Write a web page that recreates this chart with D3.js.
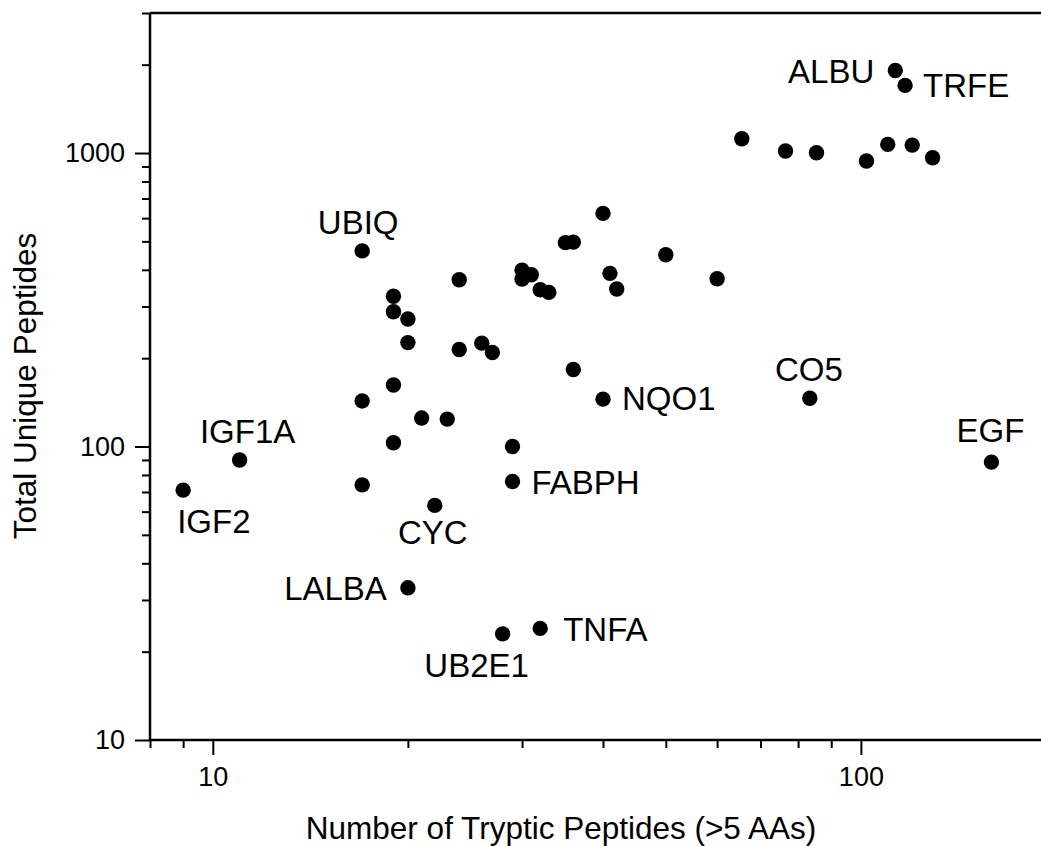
<!DOCTYPE html>
<html>

<head>
    <title>Tryptic vs Unique Peptides</title>
    <script src="https://cdnjs.cloudflare.com/ajax/libs/d3/7.8.5/d3.min.js"></script>
    <style>
        html,
        body {
            margin: 0;
            padding: 0;
            background-color: #ffffff;
        }

        #chart text {
            font-family: 'Liberation Sans', Arial, sans-serif;
            fill: #000000;
        }
    </style>
</head>

<body>
    <div id="chart"></div>

    <script>

        // number of tryptic peptides (>5 AAs) per protein
        const trypticPeptides = [
            9, 11, 17, 17, 17, 19, 19, 19, 19, 20, 20, 20, 21, 22, 23, 24,
            24, 26, 27, 28, 29, 29, 30, 30, 31, 32, 32, 33, 35, 36, 36, 40,
            40, 41, 42, 50, 60, 65.5, 76.5, 83.4, 85.4, 102, 110, 113, 117, 120, 129, 159
        ];

        // total unique peptides per protein
        const uniquePeptides = [
            71, 90, 464, 143, 74, 325, 288, 162, 103, 272, 226, 33, 125, 63, 124, 370,
            214, 225, 209, 23, 100, 76, 399, 372, 385, 342, 24, 335, 495, 497, 183, 623,
            145, 389, 344, 450, 373, 1118, 1016, 146, 1002, 939, 1070, 1910, 1700, 1064, 964, 88.5
        ];

        // protein names ('' = not labelled)
        const proteinNames = [
            'IGF2', 'IGF1A', 'UBIQ', '', '', '', '', '', '', '', '', 'LALBA', '', 'CYC', '', '',
            '', '', '', 'UB2E1', '', 'FABPH', '', '', '', '', 'TNFA', '', '', '', '', '',
            'NQO1', '', '', '', '', '', '', 'CO5', '', '', '', 'ALBU', 'TRFE', '', '', 'EGF'
        ];

        const xMajorTicks = [10, 100];
        const xMinorTicks = [8, 9, 20, 30, 40, 50, 60, 70, 80, 90, 200];
        const yMajorTicks = [10, 100, 1000];
        const yMinorTicks = [20, 30, 40, 50, 60, 70, 80, 90, 200, 300, 400, 500, 600, 700, 800, 900, 2000, 3000];

        // where each name sits relative to its point
        const labelPlacement = {
            ALBU: { anchor: 'end', dx: -21, dy: 12 },
            TRFE: { anchor: 'start', dx: 18, dy: 12 },
            UBIQ: { anchor: 'middle', dx: -4, dy: -17 },
            IGF1A: { anchor: 'middle', dx: 8, dy: -17 },
            IGF2: { anchor: 'start', dx: -6, dy: 43 },
            LALBA: { anchor: 'end', dx: -21, dy: 12 },
            CYC: { anchor: 'middle', dx: -2, dy: 39 },
            FABPH: { anchor: 'start', dx: 19, dy: 13 },
            TNFA: { anchor: 'start', dx: 23, dy: 13 },
            UB2E1: { anchor: 'middle', dx: -26, dy: 43 },
            NQO1: { anchor: 'start', dx: 19, dy: 11 },
            CO5: { anchor: 'middle', dx: -1, dy: -17 },
            EGF: { anchor: 'middle', dx: -1, dy: -20 }
        };

        const width = 1041;
        const height = 846;

        const points = trypticPeptides.map((t, i) => ({
            x: t,
            y: uniquePeptides[i],
            name: proteinNames[i]
        }));

        const svg = d3.select('#chart')
            .append('svg')
            .attr('width', width)
            .attr('height', height);

        const xScale = d3.scaleLog()
            .domain([8, 200])
            .range([150, 1056]);

        const yScale = d3.scaleLog()
            .domain([10, 3000])
            .range([740, 13]);

        // minor ticks first, then the major ones with labels
        svg.append('g')
            .attr('transform', 'translate(0,740)')
            .call(d3.axisBottom(xScale).tickValues(xMinorTicks).tickSize(8).tickFormat(''))
            .call(g => g.selectAll('line').attr('stroke-width', 2))
            .call(g => g.select('.domain').remove());

        svg.append('g')
            .attr('transform', 'translate(0,740)')
            .call(d3.axisBottom(xScale).tickValues(xMajorTicks).tickSize(15).tickPadding(12).tickFormat(d3.format('d')))
            .call(g => g.selectAll('line').attr('stroke-width', 2))
            .call(g => g.select('.domain').remove())
            .call(g => g.selectAll('text').style('font-size', '27px'));

        svg.append('g')
            .attr('transform', 'translate(150,0)')
            .call(d3.axisLeft(yScale).tickValues(yMinorTicks).tickSize(8).tickFormat(''))
            .call(g => g.selectAll('line').attr('stroke-width', 2))
            .call(g => g.select('.domain').remove());

        svg.append('g')
            .attr('transform', 'translate(150,0)')
            .call(d3.axisLeft(yScale).tickValues(yMajorTicks).tickSize(15).tickPadding(10).tickFormat(d3.format('d')))
            .call(g => g.selectAll('line').attr('stroke-width', 2))
            .call(g => g.select('.domain').remove())
            .call(g => g.selectAll('text').style('font-size', '27px'));

        // frame: left, bottom and top lines
        const frame = svg.append('g')
            .attr('stroke', '#000')
            .attr('stroke-width', 2.5);

        frame.append('line')
            .attr('x1', xScale(8)).attr('x2', xScale(8))
            .attr('y1', yScale(3000)).attr('y2', yScale(10));

        frame.append('line')
            .attr('x1', xScale(8)).attr('x2', xScale(200))
            .attr('y1', yScale(10)).attr('y2', yScale(10));

        frame.append('line')
            .attr('x1', xScale(8)).attr('x2', xScale(200))
            .attr('y1', yScale(3000)).attr('y2', yScale(3000));

        svg.append('g')
            .selectAll('circle')
            .data(points)
            .enter()
            .append('circle')
            .attr('cx', d => xScale(d.x))
            .attr('cy', d => yScale(d.y))
            .attr('r', 7.7)
            .attr('fill', '#000');

        svg.append('g')
            .selectAll('text')
            .data(points.filter(d => d.name !== ''))
            .enter()
            .append('text')
            .attr('x', d => xScale(d.x) + labelPlacement[d.name].dx)
            .attr('y', d => yScale(d.y) + labelPlacement[d.name].dy)
            .attr('text-anchor', d => labelPlacement[d.name].anchor)
            .style('font-size', '33px')
            .text(d => d.name);

        svg.append('text')
            .attr('x', 561)
            .attr('y', 839)
            .attr('text-anchor', 'middle')
            .style('font-size', '31.5px')
            .text('Number of Tryptic Peptides (>5 AAs)');

        svg.append('text')
            .attr('transform', 'translate(36,386) rotate(-90)')
            .attr('text-anchor', 'middle')
            .style('font-size', '31.5px')
            .text('Total Unique Peptides');

    </script>
</body>

</html>
